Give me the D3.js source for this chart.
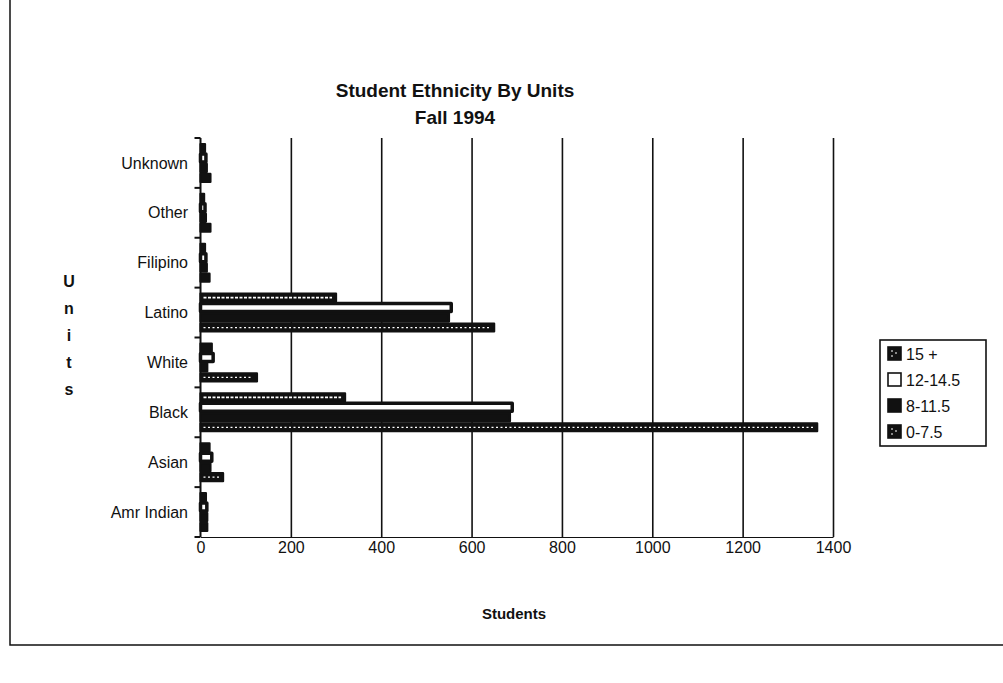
<!DOCTYPE html>
<html>
<head>
<meta charset="utf-8">
<script src="https://cdn.jsdelivr.net/npm/d3@7"></script>
<style>
  html, body { margin: 0; padding: 0; background: #fff; }
  svg { display: block; font-family: 'Liberation Sans', Arial, sans-serif; }
</style>
</head>
<body>
<div id="chart"></div>
<script>
// Chart data
const categories = ['Unknown', 'Other', 'Filipino', 'Latino', 'White', 'Black', 'Asian', 'Amr Indian'];
const seriesNames = ['15 +', '12-14.5', '8-11.5', '0-7.5'];
const units15plus = [10, 8, 10, 300, 25, 320, 20, 12];
const units12to14 = [12, 10, 12, 555, 28, 690, 25, 14];
const units8to11 = [14, 12, 14, 550, 15, 685, 22, 15];
const units0to7 = [22, 22, 20, 650, 125, 1365, 50, 15];
const xTicks = [0, 200, 400, 600, 800, 1000, 1200, 1400];
const yTitleLetters = ['U', 'n', 'i', 't', 's'];

const seriesValues = [units15plus, units12to14, units8to11, units0to7];
const data = [];
categories.forEach((cat, i) => {
    seriesNames.forEach((s, j) => {
        data.push({ cat, series: s, value: seriesValues[j][i] });
    });
});

const W = 1003, H = 683;
const plot = { left: 200.5, right: 833, top: 138, bottom: 537 };

const svg = d3.select('#chart')
    .append('svg')
    .attr('width', W)
    .attr('height', H);

// Outer frame (only left and bottom edges show in the scan)
svg.append('path')
    .attr('d', 'M10,0 L10,645 L1003,645')
    .attr('fill', 'none')
    .attr('stroke', '#111')
    .attr('stroke-width', 1.5);

// Scales
const x = d3.scaleLinear()
    .domain([0, 1400])
    .range([plot.left, plot.right]);

const y = d3.scaleBand()
    .domain(categories)
    .range([plot.top, plot.bottom])
    .paddingInner(0.2)
    .paddingOuter(0.1);

const ySub = d3.scaleBand()
    .domain(seriesNames)
    .range([0, y.bandwidth()]);

// Gridlines
const grid = svg.append('g')
    .attr('transform', `translate(0,${plot.bottom})`)
    .call(d3.axisBottom(x)
        .tickValues(xTicks.slice(1))
        .tickSize(-(plot.bottom - plot.top))
        .tickFormat(''));
grid.select('.domain').remove();
grid.selectAll('line')
    .attr('stroke', '#111')
    .attr('stroke-width', 1.6);

// X axis labels
const xAxis = svg.append('g')
    .attr('transform', `translate(0,${plot.bottom})`)
    .call(d3.axisBottom(x)
        .tickValues(xTicks)
        .tickSize(0)
        .tickPadding(5)
        .tickFormat(d3.format('d')));
xAxis.select('.domain')
    .attr('stroke', '#111')
    .attr('stroke-width', 1);
xAxis.selectAll('text')
    .style('fill', '#111')
    .style('font-size', '16px')
    .style('font-family', "'Liberation Sans', Arial, sans-serif");

// Y axis line + category ticks at band boundaries
svg.append('line')
    .attr('x1', plot.left).attr('x2', plot.left)
    .attr('y1', plot.top).attr('y2', plot.bottom)
    .attr('stroke', '#111')
    .attr('stroke-width', 2);

svg.selectAll('.cat-tick')
    .data(d3.range(categories.length + 1))
    .enter()
    .append('line')
    .attr('class', 'cat-tick')
    .attr('x1', plot.left - 6).attr('x2', plot.left)
    .attr('y1', i => plot.top + i * y.step())
    .attr('y2', i => plot.top + i * y.step())
    .attr('stroke', '#111')
    .attr('stroke-width', 2);

svg.selectAll('.cat-label')
    .data(categories)
    .enter()
    .append('text')
    .attr('class', 'cat-label')
    .attr('x', 188)
    .attr('y', d => y(d) + y.bandwidth() / 2)
    .attr('dy', '0.35em')
    .attr('text-anchor', 'end')
    .style('font-size', '16px')
    .style('fill', '#111')
    .text(d => d);

// Bars
const fillFor = s => s === '12-14.5' ? '#fff' : '#111';
const bars = svg.append('g');
bars.selectAll('rect')
    .data(data)
    .enter()
    .append('rect')
    .attr('x', x(0))
    .attr('y', d => y(d.cat) + ySub(d.series) + 1)
    .attr('width', d => x(d.value) - x(0))
    .attr('height', ySub.bandwidth() - 2)
    .attr('fill', d => fillFor(d.series))
    .attr('stroke', '#111')
    .attr('stroke-width', d => d.series === '12-14.5' ? 3.5 : 2.2)
    .attr('stroke-linejoin', 'round');

// Pattern strokes inside the two hatched series
const patterned = data.filter(d => (d.series === '15 +' || d.series === '0-7.5') && x(d.value) - x(0) > 12);
bars.selectAll('.hatch')
    .data(patterned)
    .enter()
    .append('line')
    .attr('class', 'hatch')
    .attr('x1', x(0) + 3)
    .attr('x2', d => x(d.value) - 4)
    .attr('y1', d => y(d.cat) + ySub(d.series) + ySub.bandwidth() / 2)
    .attr('y2', d => y(d.cat) + ySub(d.series) + ySub.bandwidth() / 2)
    .attr('stroke', '#fff')
    .attr('stroke-width', d => d.series === '15 +' ? 1.6 : 1.3)
    .attr('stroke-dasharray', d => d.series === '15 +' ? '3,1.5' : '2,2.5');

// Title
svg.append('text')
    .attr('x', 455).attr('y', 97)
    .attr('text-anchor', 'middle')
    .style('font-size', '19px')
    .style('font-weight', 'bold')
    .style('fill', '#111')
    .text('Student Ethnicity By Units');
svg.append('text')
    .attr('x', 455).attr('y', 124)
    .attr('text-anchor', 'middle')
    .style('font-size', '19px')
    .style('font-weight', 'bold')
    .style('fill', '#111')
    .text('Fall 1994');

// Axis titles
svg.append('text')
    .attr('x', 514).attr('y', 619)
    .attr('text-anchor', 'middle')
    .style('font-size', '15px')
    .style('font-weight', 'bold')
    .style('fill', '#111')
    .text('Students');

svg.append('text')
    .attr('text-anchor', 'middle')
    .style('font-size', '16px')
    .style('font-weight', 'bold')
    .style('fill', '#111')
    .selectAll('tspan')
    .data(yTitleLetters)
    .enter()
    .append('tspan')
    .attr('x', 69)
    .attr('y', (d, i) => 287 + i * 27)
    .text(d => d);

// Legend
const legend = svg.append('g').attr('transform', 'translate(880,340)');
legend.append('rect')
    .attr('width', 106).attr('height', 106)
    .attr('fill', '#fff')
    .attr('stroke', '#111')
    .attr('stroke-width', 1.6);

const items = legend.selectAll('.item')
    .data(seriesNames)
    .enter()
    .append('g')
    .attr('class', 'item')
    .attr('transform', (d, i) => `translate(8,${14 + i * 26})`);

items.append('rect')
    .attr('x', 0).attr('y', -7)
    .attr('width', 13).attr('height', 13)
    .attr('fill', d => fillFor(d))
    .attr('stroke', '#111')
    .attr('stroke-width', 1.6);

items.filter(d => d === '15 +' || d === '0-7.5')
    .append('path')
    .attr('d', 'M3,-3 l2,0 M7,-1 l2,0 M3,2 l2,0')
    .attr('stroke', '#fff')
    .attr('stroke-width', 1.2);

items.append('text')
    .attr('x', 18)
    .attr('dy', '0.35em')
    .style('font-size', '16px')
    .style('fill', '#111')
    .text(d => d);
</script>
</body>
</html>
